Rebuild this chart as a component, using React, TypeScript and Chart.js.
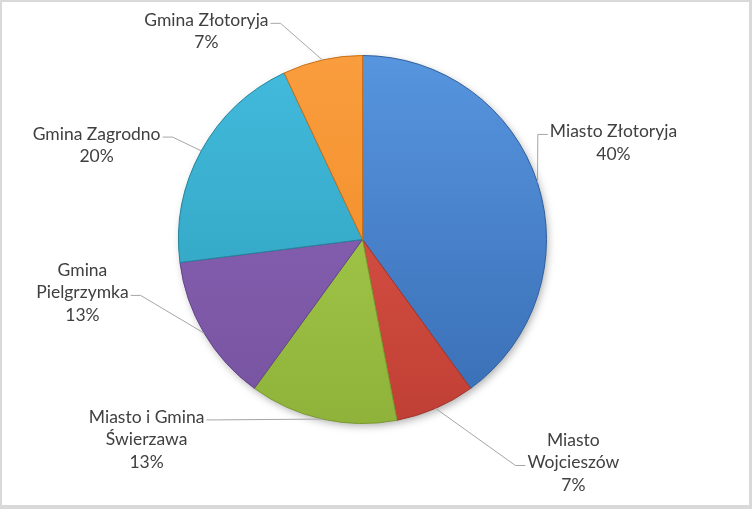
import { useRef, useEffect } from "react";
import { Chart, registerables } from "chart.js";

Chart.register(...registerables);

const categories = [
    "Miasto Złotoryja",
    "Miasto Wojcieszów",
    "Miasto i Gmina Świerzawa",
    "Gmina Pielgrzymka",
    "Gmina Zagrodno",
    "Gmina Złotoryja",
];
const shares = [40, 7, 13, 13, 20, 7];

const topColors = ["#5795df", "#e35a4d", "#abd252", "#8d66bb", "#43bbdd", "#fa9d3e"];
const bottomColors = ["#386db3", "#c03f34", "#8fb33a", "#76539f", "#2c9cb8", "#ee8820"];
const borderColors = ["#2f5f9e", "#a33329", "#7a9a30", "#63448a", "#24849c", "#c86f17"];

// where each label sits: angle (deg, clockwise from 12 o'clock), distance in radii, word to wrap at
const labelLayout = [
    { angle: 68.9, dist: 1.462, breakAt: 0 },
    { angle: 136.6, dist: 1.668, breakAt: 1 },
    { angle: 227.2, dist: 1.599, breakAt: 3 },
    { angle: 259.3, dist: 1.549, breakAt: 1 },
    { angle: 289.5, dist: 1.533, breakAt: 0 },
    { angle: 323.1, dist: 1.413, breakAt: 0 },
];

const FONT = "17.5px Lato";
const LINE_H = 22.5;

const framePlugin = {
    id: "frame",
    beforeDraw(chart: Chart) {
        const { ctx, width, height } = chart;
        ctx.save();
        ctx.fillStyle = "#d9d9d9";
        ctx.fillRect(0, 0, width, height);
        ctx.fillStyle = "#ffffff";
        ctx.fillRect(2, 2, width - 5, height - 6);
        ctx.restore();
    },
};

const shadowPlugin = {
    id: "pieShadow",
    beforeDatasetsDraw(chart: Chart) {
        const el: any = chart.getDatasetMeta(0).data[0];
        if (!el) return;
        const { x, y, outerRadius } = el.getProps(["x", "y", "outerRadius"], true);
        const ctx = chart.ctx;
        ctx.save();
        ctx.shadowColor = "rgba(0,0,0,0.35)";
        ctx.shadowBlur = 8;
        ctx.shadowOffsetX = 2;
        ctx.shadowOffsetY = 3;
        ctx.fillStyle = "#ffffff";
        ctx.beginPath();
        ctx.arc(x, y, outerRadius - 1, 0, Math.PI * 2);
        ctx.fill();
        ctx.restore();
    },
};

const labelPlugin = {
    id: "pieLabels",
    afterDatasetsDraw(chart: Chart) {
        const ctx = chart.ctx;
        const meta = chart.getDatasetMeta(0);
        const total = shares.reduce((a, b) => a + b, 0);
        ctx.save();
        ctx.font = FONT;
        meta.data.forEach((el: any, i) => {
            const { x, y, startAngle, endAngle, outerRadius } = el.getProps(
                ["x", "y", "startAngle", "endAngle", "outerRadius"], true);
            const mid = (startAngle + endAngle) / 2;
            const ex = x + Math.cos(mid) * outerRadius;
            const ey = y + Math.sin(mid) * outerRadius;

            const lay = labelLayout[i];
            const a = (lay.angle - 90) * Math.PI / 180;
            const cx = x + Math.cos(a) * outerRadius * lay.dist;
            const cy = y + Math.sin(a) * outerRadius * lay.dist;

            const words = categories[i].split(" ");
            const lines = lay.breakAt
                ? [words.slice(0, lay.breakAt).join(" "), words.slice(lay.breakAt).join(" ")]
                : [categories[i]];
            lines.push(Math.round(shares[i] / total * 100) + "%");

            const top = cy - lines.length * LINE_H / 2;
            let wi = 0, ww = 0;
            lines.forEach((t, k) => {
                const w = ctx.measureText(t).width;
                if (w > ww) { ww = w; wi = k; }
            });

            // leader line
            const right = ex < cx;
            const ay = top + LINE_H * (wi + 0.5) + 3;
            const ax = right ? cx - ww / 2 - 2 : cx + ww / 2 + 2;
            const bx = ax + (right ? -10 : 10);
            ctx.strokeStyle = "#a6a6a6";
            ctx.lineWidth = 1;
            ctx.beginPath();
            ctx.moveTo(ax, ay);
            ctx.lineTo(bx, ay);
            ctx.lineTo(ex, ey);
            ctx.stroke();

            ctx.fillStyle = "#404040";
            ctx.textAlign = "center";
            ctx.textBaseline = "middle";
            lines.forEach((t, k) => ctx.fillText(t, cx, top + LINE_H * (k + 0.5)));
        });
        ctx.restore();
    },
};

export default function App() {
    const canvasRef = useRef<HTMLCanvasElement>(null);
    const chartRef = useRef<Chart<"pie", number[], string> | null>(null);

    useEffect(() => {
        document.body.style.margin = "0";
        if (canvasRef && canvasRef.current) {
            chartRef.current = new Chart(canvasRef.current, {
                type: "pie",
                data: {
                    labels: categories,
                    datasets: [{
                        data: shares,
                        backgroundColor: (c: any) => {
                            const area = c.chart.chartArea;
                            if (!area) return topColors[c.dataIndex];
                            const g = c.chart.ctx.createLinearGradient(0, area.top, 0, area.bottom);
                            g.addColorStop(0, topColors[c.dataIndex]);
                            g.addColorStop(1, bottomColors[c.dataIndex]);
                            return g;
                        },
                        borderColor: borderColors,
                        borderWidth: 1,
                    }],
                },
                options: {
                    responsive: false,
                    animation: false,
                    layout: { padding: { left: 178, right: 205, top: 55, bottom: 85 } },
                    plugins: {
                        legend: { display: false },
                        tooltip: { enabled: false },
                    },
                },
                plugins: [framePlugin, shadowPlugin, labelPlugin],
            });
        }

        return () => {
            if (chartRef.current) {
                chartRef.current.destroy();
                chartRef.current = null;
            }
        };
    }, []);

    return (
        <div style={{ width: 752, height: 509 }}>
            <canvas ref={canvasRef} width={752} height={509} />
        </div>
    );
}
